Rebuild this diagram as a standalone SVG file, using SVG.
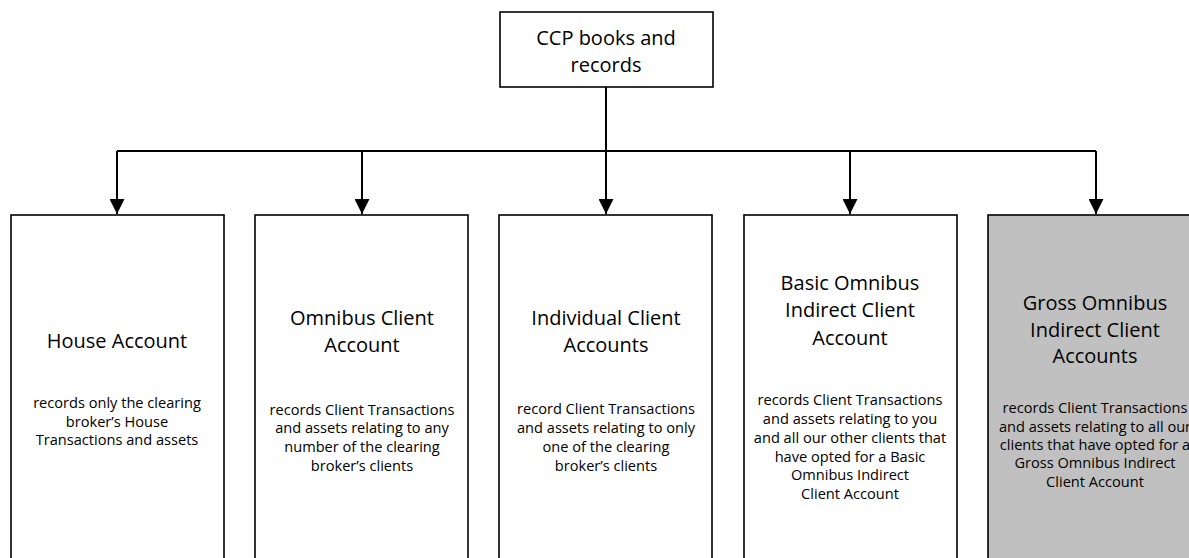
<svg xmlns="http://www.w3.org/2000/svg" width="1189" height="558" viewBox="0 0 1189 558">
<style>
.box{fill:#fff;stroke:#000;stroke-width:1.6}
.gray{fill:#c0c0c0}
.t{font-family:"Open Sans","Noto Sans",sans-serif;font-size:20px;fill:#000;text-anchor:middle}
.b{font-family:"Open Sans","Noto Sans",sans-serif;font-size:14.6px;fill:#000;text-anchor:middle}
.c{fill:none;stroke:#000;stroke-width:2}
</style>
<defs>
<marker id="arr" viewBox="0 0 10 10" refX="10" refY="5" markerWidth="15" markerHeight="15" markerUnits="userSpaceOnUse" orient="auto">
<path d="M0,0 L10,5 L0,10 z" fill="#000"/>
</marker>
</defs>
<g id="connectors">
<line class="c" x1="606" y1="87" x2="606" y2="151"/>
<line class="c" x1="117" y1="151" x2="1096" y2="151"/>
<line class="c" x1="117" y1="151" x2="117" y2="214" marker-end="url(#arr)"/>
<line class="c" x1="362" y1="151" x2="362" y2="214" marker-end="url(#arr)"/>
<line class="c" x1="606" y1="151" x2="606" y2="214" marker-end="url(#arr)"/>
<line class="c" x1="850" y1="151" x2="850" y2="214" marker-end="url(#arr)"/>
<line class="c" x1="1096" y1="151" x2="1096" y2="214" marker-end="url(#arr)"/>
</g>
<g id="ccp">
<rect class="box" x="500" y="12" width="213" height="75"/>
<text class="t" x="606" y="45">CCP books and</text>
<text class="t" x="606" y="72">records</text>
</g>
<g id="house">
<rect class="box" x="11" y="215" width="213" height="360"/>
<text class="t" x="117" y="348">House Account</text>
<text class="b" x="117" y="408">records only the clearing</text>
<text class="b" x="117" y="427">broker’s House</text>
<text class="b" x="117" y="445">Transactions and assets</text>
</g>
<g id="omnibus">
<rect class="box" x="255" y="215" width="213" height="360"/>
<text class="t" x="362" y="325">Omnibus Client</text>
<text class="t" x="362" y="352">Account</text>
<text class="b" x="362" y="415">records Client Transactions</text>
<text class="b" x="362" y="433">and assets relating to any</text>
<text class="b" x="362" y="452">number of the clearing</text>
<text class="b" x="362" y="471">broker’s clients</text>
</g>
<g id="individual">
<rect class="box" x="499" y="215" width="213" height="360"/>
<text class="t" x="606" y="325">Individual Client</text>
<text class="t" x="606" y="352">Accounts</text>
<text class="b" x="606" y="414">record Client Transactions</text>
<text class="b" x="606" y="433">and assets relating to only</text>
<text class="b" x="606" y="452">one of the clearing</text>
<text class="b" x="606" y="471">broker’s clients</text>
</g>
<g id="basic">
<rect class="box" x="744" y="215" width="213" height="360"/>
<text class="t" x="850" y="290">Basic Omnibus</text>
<text class="t" x="850" y="317">Indirect Client</text>
<text class="t" x="850" y="345">Account</text>
<text class="b" x="850" y="405">records Client Transactions</text>
<text class="b" x="850" y="424">and assets relating to you</text>
<text class="b" x="850" y="443">and all our other clients that</text>
<text class="b" x="850" y="462">have opted for a Basic</text>
<text class="b" x="850" y="480">Omnibus Indirect</text>
<text class="b" x="850" y="499">Client Account</text>
</g>
<g id="gross">
<rect class="box gray" x="988" y="215" width="213" height="360"/>
<text class="t" x="1095" y="310">Gross Omnibus</text>
<text class="t" x="1095" y="337">Indirect Client</text>
<text class="t" x="1095" y="363">Accounts</text>
<text class="b" x="1095" y="413">records Client Transactions</text>
<text class="b" x="1095" y="432">and assets relating to all our</text>
<text class="b" x="1095" y="450">clients that have opted for a</text>
<text class="b" x="1095" y="468">Gross Omnibus Indirect</text>
<text class="b" x="1095" y="487">Client Account</text>
</g>
</svg>
